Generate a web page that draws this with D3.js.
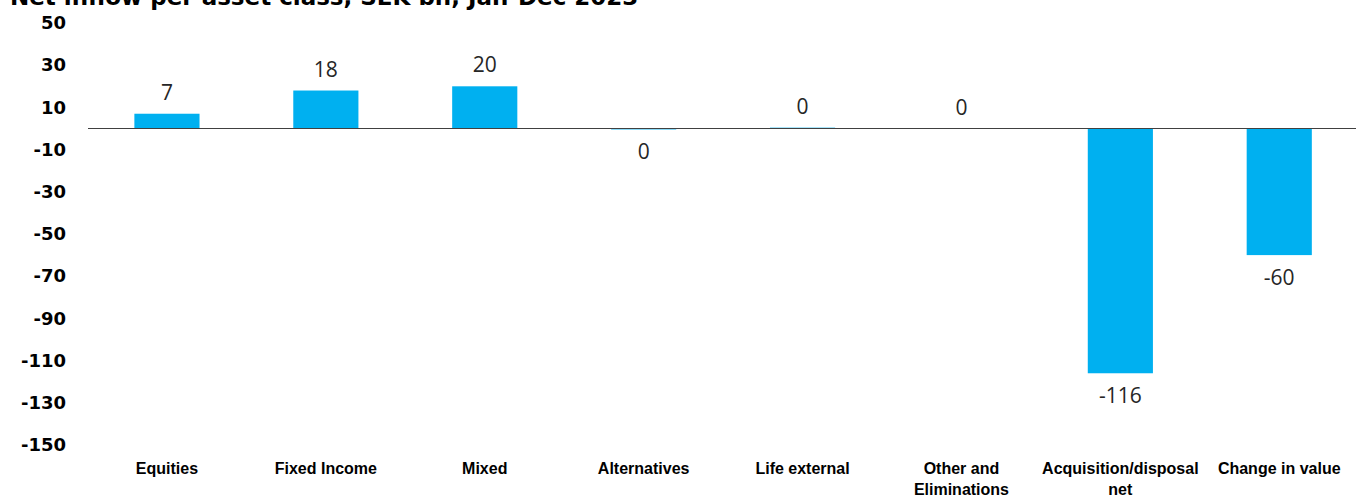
<!DOCTYPE html>
<html>
<head>
<meta charset="utf-8">
<script src="https://cdn.jsdelivr.net/npm/d3@7"></script>
<style>
  html, body { margin: 0; padding: 0; background: #fff; overflow: hidden; }
  svg { display: block; }
</style>
</head>
<body>
<svg id="chart" width="1356" height="497"></svg>
<script>
// Net inflow per asset class, SEK bn
const categories = ["Equities", "Fixed Income", "Mixed", "Alternatives", "Life external",
                    "Other and Eliminations", "Acquisition/disposal net", "Change in value"];
const values = [7, 18, 20, -0.45, 0.4, 0, -116, -60];
const yTicks = [50, 30, 10, -10, -30, -50, -70, -90, -110, -130, -150];
const title = "Net inflow per asset class, SEK bn, Jan-Dec 2023";

const W = 1356, H = 497;
const svg = d3.select("#chart");

const x = d3.scaleBand()
  .domain(categories)
  .range([87.5, 87.5 + 8 * 158.9])
  .paddingInner(0.59)
  .paddingOuter(0.295);

const y = d3.scaleLinear().domain([-150, 50]).range([445, 23]);

// title (runs off the top edge)
svg.append("text")
  .attr("x", 10).attr("y", 5)
  .attr("font-family", "'DejaVu Sans', sans-serif")
  .attr("font-weight", "bold").attr("font-size", 23)
  .attr("fill", "#000")
  .text(title);

// y axis labels, no axis line
const yAxis = d3.axisLeft(y).tickValues(yTicks).tickSize(0).tickPadding(0)
  .tickFormat(d => String(d));
const yG = svg.append("g").attr("transform", "translate(66,0)").call(yAxis);
yG.select(".domain").remove();
yG.selectAll("text")
  .attr("font-family", "'DejaVu Sans', sans-serif")
  .attr("font-weight", "bold").attr("font-size", 18)
  .attr("fill", "#000");

// bars
svg.append("g").selectAll("rect")
  .data(categories)
  .join("rect")
  .attr("x", d => x(d))
  .attr("width", x.bandwidth())
  .attr("y", (d, i) => y(Math.max(0, values[i])))
  .attr("height", (d, i) => Math.abs(y(values[i]) - y(0)))
  .attr("fill", "#00B0F0");

// zero baseline
svg.append("line")
  .attr("x1", 88).attr("x2", W)
  .attr("y1", y(0)).attr("y2", y(0))
  .attr("stroke", "#404040").attr("stroke-width", 1.2);

// value labels
svg.append("g").selectAll("text")
  .data(categories)
  .join("text")
  .attr("x", d => x(d) + x.bandwidth() / 2)
  .attr("y", (d, i) => values[i] < 0 ? y(values[i]) + 30 : y(values[i]) - 14)
  .attr("text-anchor", "middle")
  .attr("font-family", "'Open Sans', sans-serif")
  .attr("font-size", 21)
  .attr("fill", "#262626")
  .text((d, i) => String(Math.round(values[i]) || 0));

// category labels, wrapped to the band step
function wrap(sel, width) {
  sel.each(function () {
    const t = d3.select(this);
    const words = t.text().split(/\s+/);
    const xPos = t.attr("x");
    t.text(null);
    let line = [];
    let tspan = t.append("tspan").attr("x", xPos).attr("dy", 0);
    for (const w of words) {
      line.push(w);
      tspan.text(line.join(" "));
      if (tspan.node().getComputedTextLength() > width && line.length > 1) {
        line.pop();
        tspan.text(line.join(" "));
        line = [w];
        tspan = t.append("tspan").attr("x", xPos).attr("dy", 21).text(w);
      }
    }
  });
}

svg.append("g").selectAll("text")
  .data(categories)
  .join("text")
  .attr("x", d => x(d) + x.bandwidth() / 2)
  .attr("y", 474)
  .attr("text-anchor", "middle")
  .attr("font-family", "'Liberation Sans', Arial, sans-serif")
  .attr("font-weight", "bold")
  .attr("font-size", 16)
  .attr("fill", "#000")
  .text(d => d)
  .call(wrap, x.step() - 2);
</script>
</body>
</html>
